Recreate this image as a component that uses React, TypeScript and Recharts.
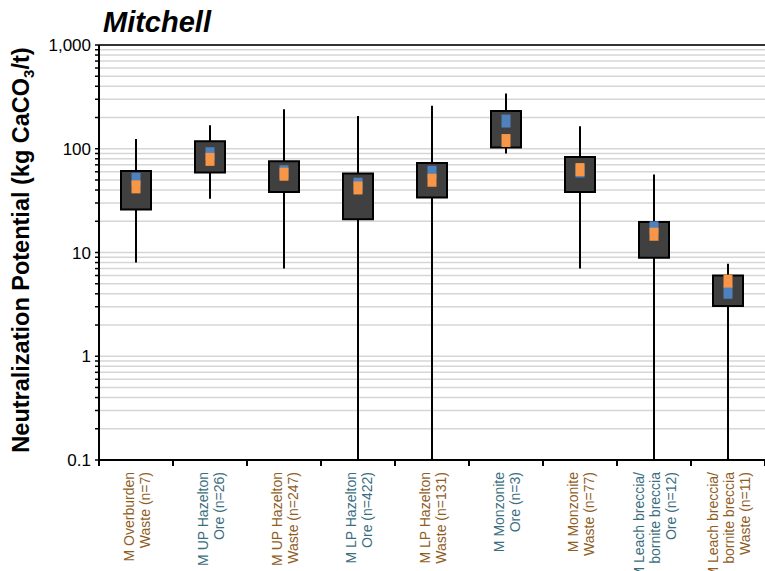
import React from "react";
import {
  ComposedChart,
  Bar,
  Line,
  XAxis,
  YAxis,
  CartesianGrid,
  ReferenceLine,
} from "recharts";

const categories = [
  "M Overburden\nWaste (n=7)",
  "M UP Hazelton\nOre (n=26)",
  "M UP Hazelton\nWaste (n=247)",
  "M LP Hazelton\nOre (n=422)",
  "M LP Hazelton\nWaste (n=131)",
  "M Monzonite\nOre (n=3)",
  "M Monzonite\nWaste (n=77)",
  "M Leach breccia/\nbornite breccia\nOre (n=12)",
  "M Leach breccia/\nbornite breccia\nWaste (n=11)",
];

const mins = [8.0, 33, 7.0, 0.1, 0.1, 90, 7.0, 0.1, 0.1];
const q1s = [26, 59, 38.4, 20.9, 33.8, 103, 38.4, 8.9, 3.05];
const q3s = [61, 118, 75.8, 57.6, 73, 231, 83.4, 19.7, 6.0];
const maxs = [124, 168, 240, 207, 259, 340, 165, 56.4, 7.8];
const means = [50.8, 89.5, 60, 45.5, 59.3, 185, 61, 17.3, 4.14];
const medians = [42.9, 79, 56.8, 41.9, 49.7, 120, 63, 15.0, 5.3];

const majorTicks = [0.1, 1, 10, 100, 1000];
const minorSteps = [1, 2, 3, 4, 5, 6, 7, 8, 9];

const W = 765;
const H = 571;
const PLOT_LEFT = 99;
const PLOT_BOTTOM = 460;
const BAND = (W - PLOT_LEFT) / categories.length;
const FONT = "'Liberation Sans', Arial, sans-serif";
const WASTE = "#8f5e1f";
const ORE = "#3b6e80";

const yTicks: number[] = [];
majorTicks.slice(0, -1).forEach((m) =>
  minorSteps.forEach((s) => yTicks.push(Number((m * s).toPrecision(3))))
);
yTicks.push(1000);

const data = categories.map((name, i) => ({
  name,
  whisker: [mins[i], maxs[i]],
  box: [q1s[i], q3s[i]],
  mean: means[i],
  median: medians[i],
}));

function YTick(props: any) {
  const { y, payload } = props;
  const v = payload.value;
  const major = majorTicks.includes(v);
  return (
    <g>
      <line x1={PLOT_LEFT - 4} x2={PLOT_LEFT} y1={y} y2={y} stroke="#000" strokeWidth={1.5} />
      {major && (
        <text x={91} y={y} dy="0.36em" textAnchor="end" fontSize={17} fill="#000" fontFamily={FONT}>
          {v === 1000 ? "1,000" : String(v)}
        </text>
      )}
    </g>
  );
}

function XTick(props: any) {
  const { x, payload } = props;
  const lines = String(payload.value).split("\n");
  const color = lines[lines.length - 1].startsWith("Ore") ? ORE : WASTE;
  const n = lines.length;
  const lh = 16;
  return (
    <g>
      {payload.index === 0 && (
        <line x1={x - BAND / 2} x2={x - BAND / 2} y1={PLOT_BOTTOM} y2={PLOT_BOTTOM + 6} stroke="#000" strokeWidth={2} />
      )}
      <line x1={x + BAND / 2} x2={x + BAND / 2} y1={PLOT_BOTTOM} y2={PLOT_BOTTOM + 6} stroke="#000" strokeWidth={2} />
      {lines.map((t, i) => {
        const bx = x + (i - (n - 1) / 2) * lh + 5.5;
        return (
          <text
            key={i}
            transform={`translate(${bx},${PLOT_BOTTOM + 12}) rotate(-90)`}
            textAnchor="end"
            fontSize={14}
            fill={color}
            fontFamily={FONT}
          >
            {t}
          </text>
        );
      })}
    </g>
  );
}

const marker = (color: string) => (p: any) => (
  <rect key={`${color}-${p.index}`} x={p.cx - 4.5} y={p.cy - 6.5} width={9} height={13} fill={color} />
);

export default function App() {
  return (
    <div style={{ position: "absolute", left: 0, top: 0, width: W, height: H, background: "#fff" }}>
      <ComposedChart
        width={W}
        height={H}
        data={data}
        margin={{ top: 45, right: 0, bottom: 0, left: 0 }}
      >
        <CartesianGrid xAxisId="b" vertical={false} stroke="#d6d6d6" strokeWidth={1.5} />
        <XAxis xAxisId="w" dataKey="name" hide />
        <XAxis
          xAxisId="b"
          dataKey="name"
          height={111}
          interval={0}
          axisLine={{ stroke: "#000", strokeWidth: 2 }}
          tickLine={false}
          tick={<XTick />}
        />
        <YAxis
          scale="log"
          domain={[0.1, 1000]}
          allowDataOverflow
          ticks={yTicks}
          interval={0}
          width={PLOT_LEFT}
          axisLine={{ stroke: "#000", strokeWidth: 2 }}
          tickLine={false}
          tick={<YTick />}
        />
        <ReferenceLine xAxisId="b" y={1000} stroke="#333" strokeWidth={2} />
        <Bar xAxisId="w" dataKey="whisker" barSize={2} fill="#000" isAnimationActive={false} />
        <Bar
          xAxisId="b"
          dataKey="box"
          barSize={30}
          fill="#404040"
          stroke="#000"
          strokeWidth={2}
          isAnimationActive={false}
        />
        <Line
          xAxisId="b"
          dataKey="mean"
          stroke="none"
          dot={marker("#4f81bd")}
          activeDot={false}
          isAnimationActive={false}
        />
        <Line
          xAxisId="b"
          dataKey="median"
          stroke="none"
          dot={marker("#f79646")}
          activeDot={false}
          isAnimationActive={false}
        />
      </ComposedChart>
      <svg width={W} height={H} style={{ position: "absolute", left: 0, top: 0, pointerEvents: "none" }}>
        <text x={103} y={32} fontSize={29} fontWeight="bold" fontStyle="italic" fontFamily={FONT} fill="#000">
          Mitchell
        </text>
        <text
          transform="translate(29,250) rotate(-90)"
          textAnchor="middle"
          fontSize={23.5}
          fontWeight="bold"
          fontFamily={FONT}
          fill="#000"
        >
          Neutralization Potential (kg CaCO
          <tspan fontSize={15} dy={5}>3</tspan>
          <tspan dy={-5}>/t)</tspan>
        </text>
      </svg>
    </div>
  );
}
